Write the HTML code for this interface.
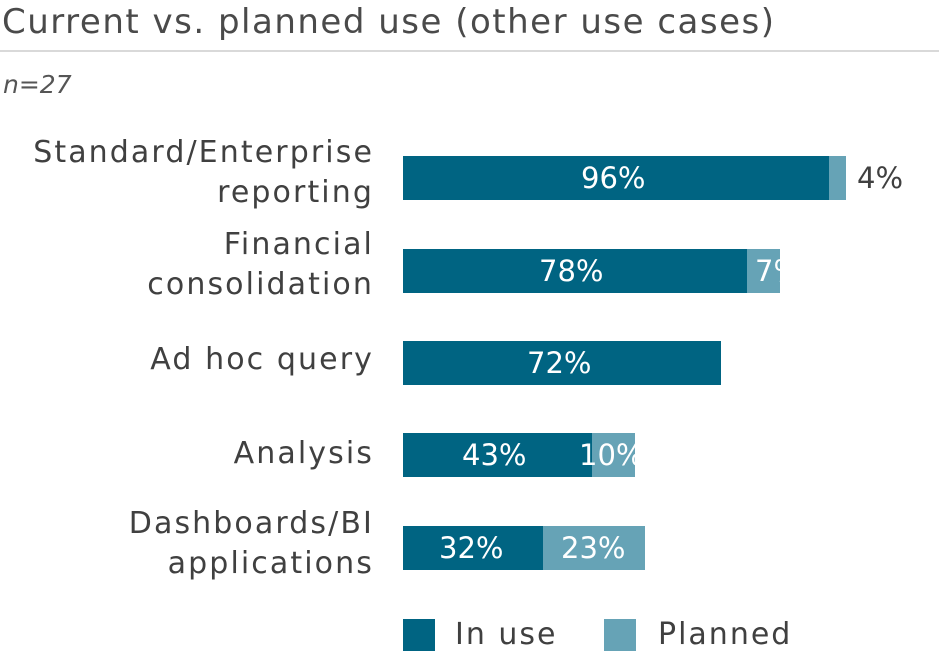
<!DOCTYPE html><html><head><style>
body{margin:0;width:939px;height:657px;background:#fff;font-family:"DejaVu Sans",sans-serif;position:relative;overflow:hidden;color:#404040}
.a{position:absolute}
.t{left:2px;top:2px;font-size:34px;color:#4a4a4a;letter-spacing:1.5px}
.hr{left:0;top:50px;width:939px;height:2px;background:#d9d9d9}
.n{left:3px;top:70px;font-size:25px;font-style:italic;color:#555}
.l{right:565px;text-align:right;font-size:30px;line-height:40px;color:#404040;letter-spacing:2.1px}
.bar{height:44px;overflow:hidden}
.s{position:absolute;top:0;height:44px}
.d{background:#006482}.p{background:#66a3b6}
.tx{position:absolute;top:0;color:#fff;font-size:29px;line-height:44px;white-space:nowrap}
.sq{width:32px;height:32px}
.lg{font-size:30px;line-height:32px;letter-spacing:2px}
</style></head><body>
<div class="a t">Current vs. planned use (other use cases)</div>
<div class="a hr"></div>
<div class="a n">n=27</div>
<div class="a l" style="top:133px">Standard/Enterprise<br>reporting</div>
<div class="a l" style="top:225px">Financial<br>consolidation</div>
<div class="a l" style="top:340px">Ad hoc query</div>
<div class="a l" style="top:434px">Analysis</div>
<div class="a l" style="top:504px">Dashboards/BI<br>applications</div>

<div class="a bar" style="left:403px;top:156px;width:443px">
<div class="s d" style="left:0;width:426px"></div><div class="s p" style="left:426px;width:17px"></div>
<div class="tx" style="left:178px">96%</div></div>
<div class="a" style="left:857px;top:156px;font-size:29px;line-height:44px;color:#404040">4%</div>

<div class="a bar" style="left:403px;top:249px;width:377px">
<div class="s d" style="left:0;width:344px"></div><div class="s p" style="left:344px;width:33px"></div>
<div class="tx" style="left:136px">78%</div><div class="tx" style="left:352px">7%</div></div>

<div class="a bar" style="left:403px;top:341px;width:318px">
<div class="s d" style="left:0;width:318px"></div>
<div class="tx" style="left:124px">72%</div></div>

<div class="a bar" style="left:403px;top:433px;width:232px">
<div class="s d" style="left:0;width:189px"></div><div class="s p" style="left:189px;width:43px"></div>
<div class="tx" style="left:59px">43%</div><div class="tx" style="left:176px">10%</div></div>

<div class="a bar" style="left:403px;top:526px;width:242px">
<div class="s d" style="left:0;width:140px"></div><div class="s p" style="left:140px;width:102px"></div>
<div class="tx" style="left:36px">32%</div><div class="tx" style="left:158px">23%</div></div>

<div class="a sq d" style="left:403px;top:619px"></div>
<div class="a lg" style="left:455px;top:619px">In use</div>
<div class="a sq p" style="left:604px;top:619px"></div>
<div class="a lg" style="left:658px;top:619px">Planned</div>
</body></html>
